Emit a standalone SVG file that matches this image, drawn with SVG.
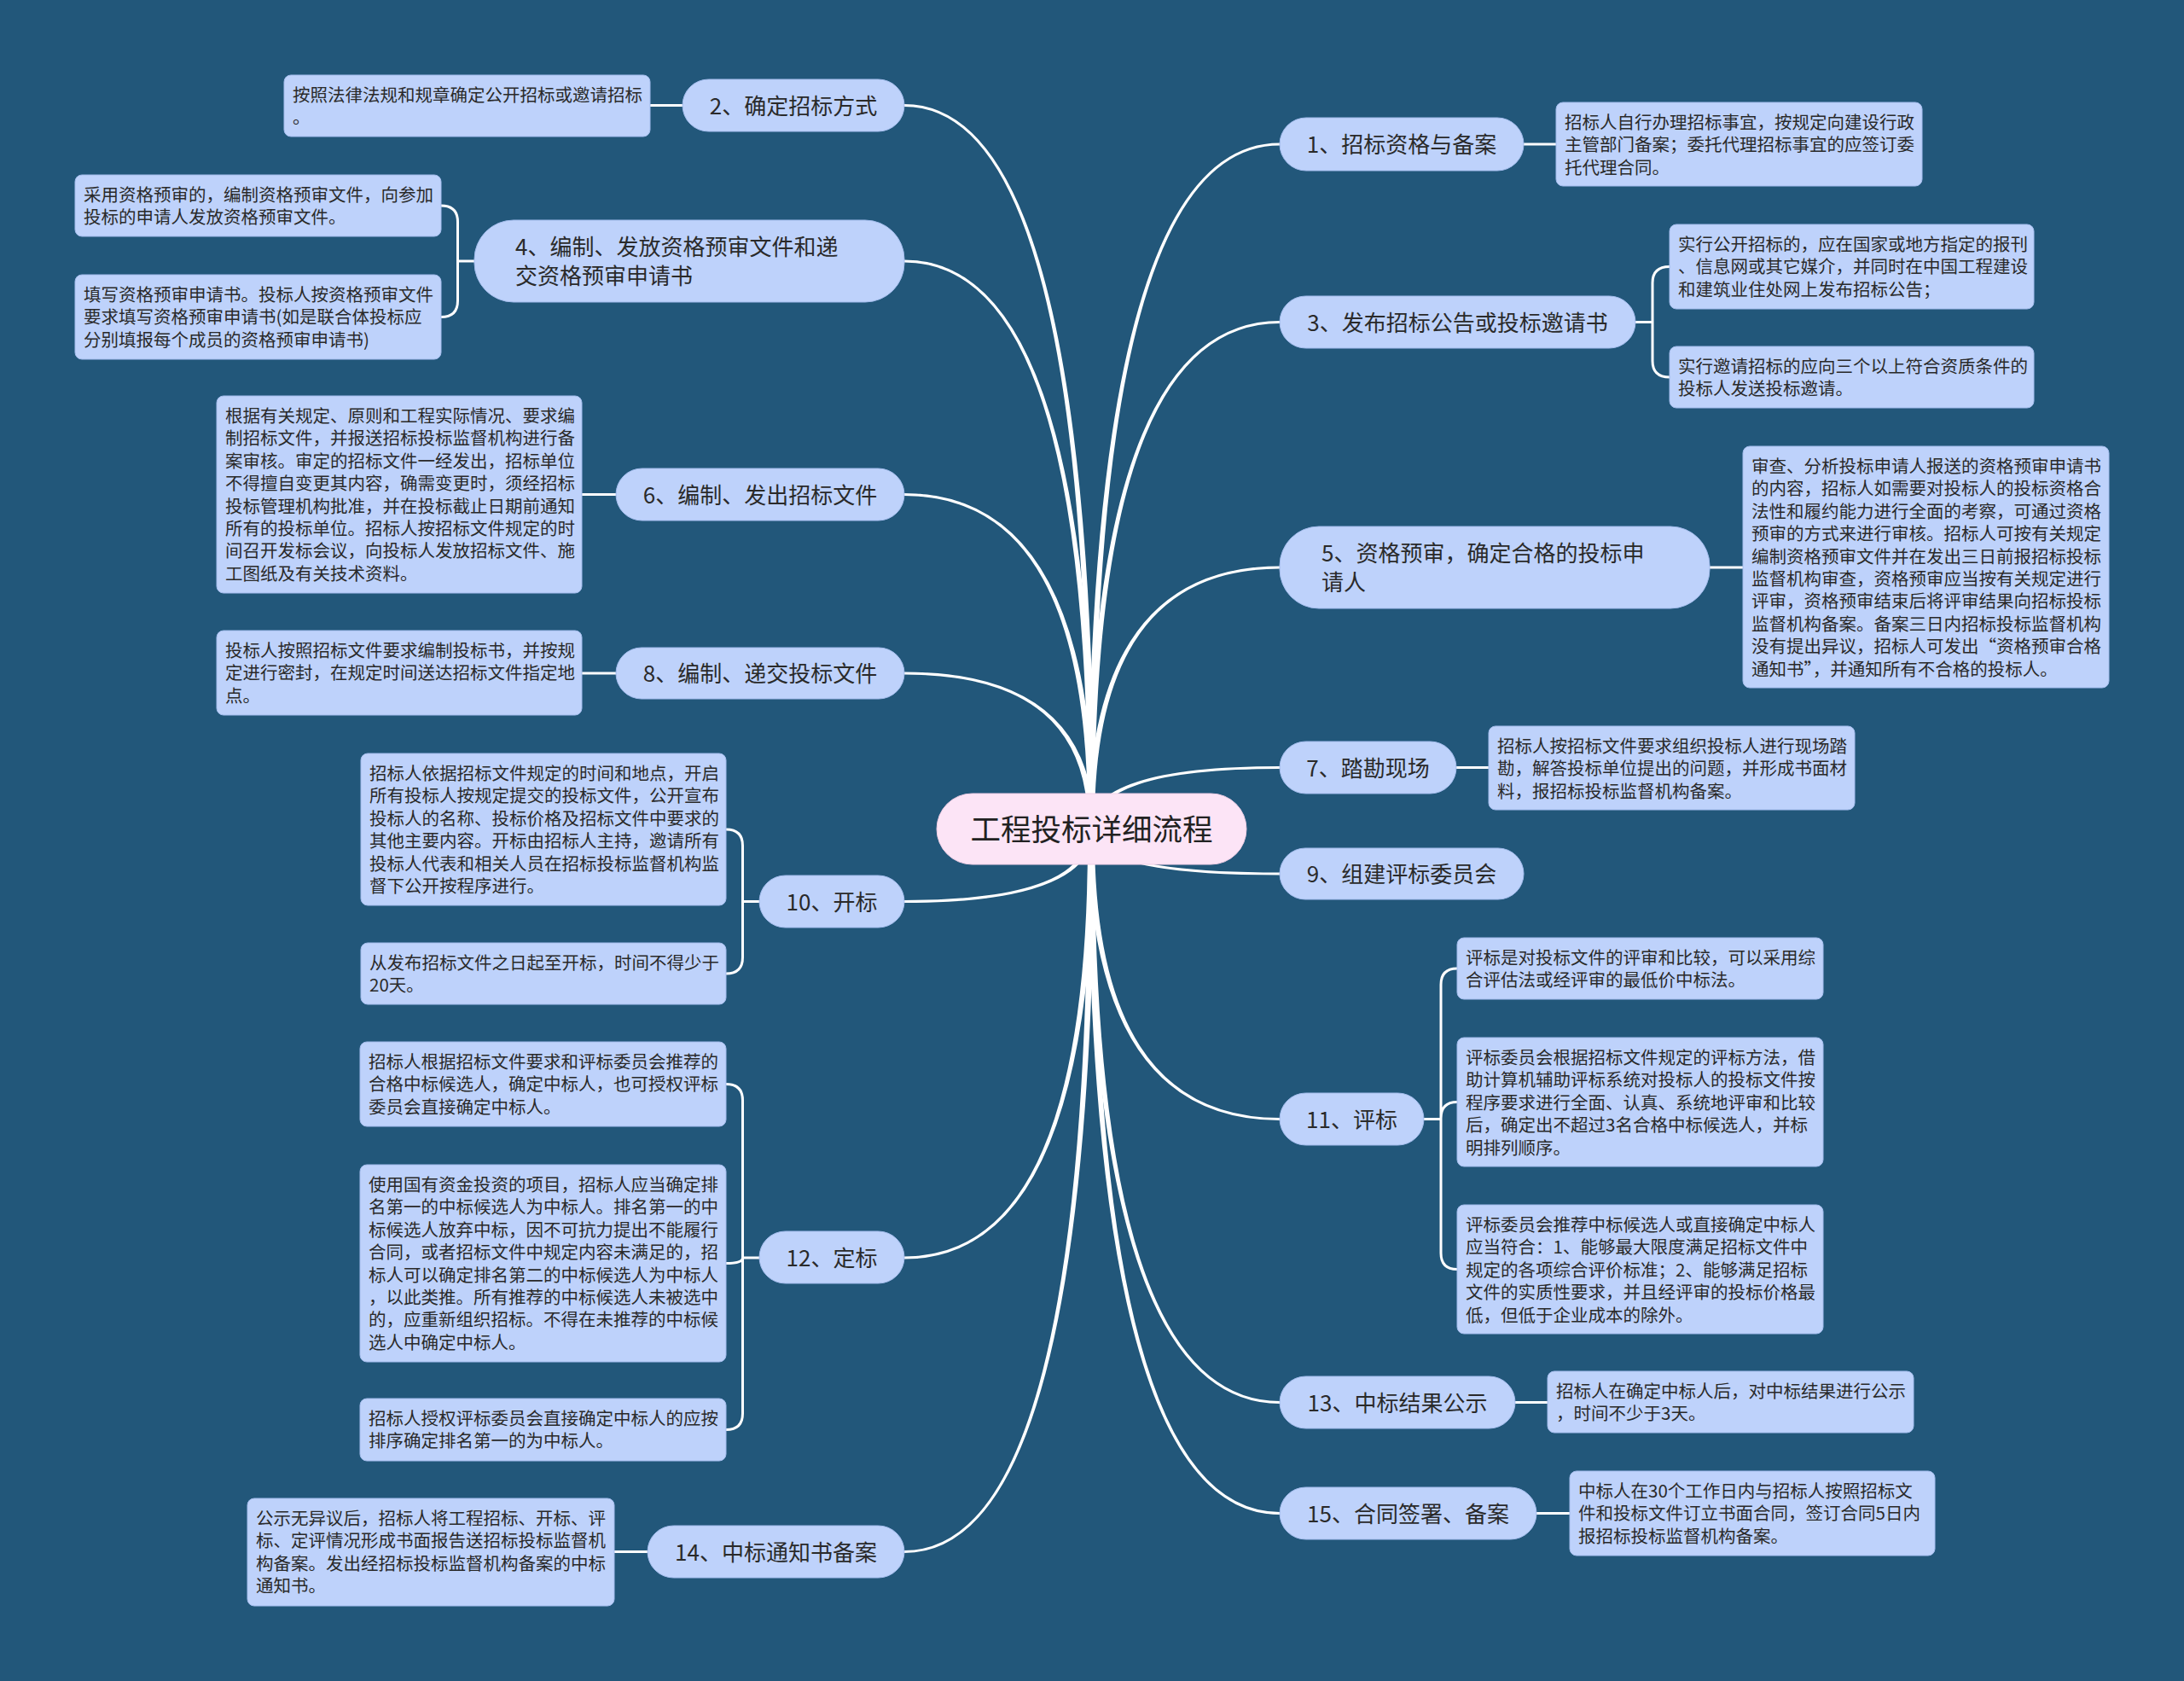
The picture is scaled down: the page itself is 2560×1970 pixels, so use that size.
<svg xmlns="http://www.w3.org/2000/svg" width="2560" height="1970" viewBox="0 0 2560 1970">
<style>
.bg{fill:#22577a}
.node{fill:#bed2fb;stroke:#a3bcec;stroke-width:1}
.child{fill:#bed2fb;stroke:#a3bcec;stroke-width:1}
.root{fill:#fce4f6;stroke:#f0cfe6;stroke-width:1}
.nt{font-family:"Noto Sans CJK SC","Noto Sans",sans-serif;font-size:26px;fill:#2a2a2a}
.ct{font-family:"Noto Sans CJK SC","Noto Sans",sans-serif;font-size:20.5px;fill:#2a2a2a}
.rt{font-family:"Noto Sans CJK SC","Noto Sans",sans-serif;font-size:35.5px;fill:#222}
.mid{text-anchor:middle}
.trunk{fill:#ffffff;stroke:#ffffff;stroke-width:3;stroke-linejoin:round}
.link{fill:none;stroke:#ffffff;stroke-width:3;stroke-linecap:round}
</style>
<rect class="bg" x="0" y="0" width="2560" height="1970"/>
<g id="connectors">
<path class="trunk" d="M1276.5 971.5 Q1279 169 1500 169 Q1279 169 1281.5 971.5Z"/>
<path class="trunk" d="M1276.5 971.5 Q1279 377.5 1500 377.5 Q1279 377.5 1281.5 971.5Z"/>
<path class="trunk" d="M1276.5 971.5 Q1279 665 1500 665 Q1279 665 1281.5 971.5Z"/>
<path class="trunk" d="M1276.5 971.5 Q1279 899.5 1500 899.5 Q1279 899.5 1281.5 971.5Z"/>
<path class="trunk" d="M1276.5 971.5 Q1279 1024 1500 1024 Q1279 1024 1281.5 971.5Z"/>
<path class="trunk" d="M1276.5 971.5 Q1279 1311.5 1500 1311.5 Q1279 1311.5 1281.5 971.5Z"/>
<path class="trunk" d="M1276.5 971.5 Q1279 1643.5 1500 1643.5 Q1279 1643.5 1281.5 971.5Z"/>
<path class="trunk" d="M1276.5 971.5 Q1279 1773.5 1500 1773.5 Q1279 1773.5 1281.5 971.5Z"/>
<path class="trunk" d="M1276.5 971.5 Q1279 123.5 1060 123.5 Q1279 123.5 1281.5 971.5Z"/>
<path class="trunk" d="M1276.5 971.5 Q1279 306 1060 306 Q1279 306 1281.5 971.5Z"/>
<path class="trunk" d="M1276.5 971.5 Q1279 579.5 1060 579.5 Q1279 579.5 1281.5 971.5Z"/>
<path class="trunk" d="M1276.5 971.5 Q1279 789 1060 789 Q1279 789 1281.5 971.5Z"/>
<path class="trunk" d="M1276.5 971.5 Q1279 1056.5 1060 1056.5 Q1279 1056.5 1281.5 971.5Z"/>
<path class="trunk" d="M1276.5 971.5 Q1279 1474 1060 1474 Q1279 1474 1281.5 971.5Z"/>
<path class="trunk" d="M1276.5 971.5 Q1279 1818.5 1060 1818.5 Q1279 1818.5 1281.5 971.5Z"/>
<path class="link" d="M1786 169 H1824"/>
<path class="link" d="M2004 665 H2043"/>
<path class="link" d="M1707 899.5 H1745"/>
<path class="link" d="M1776 1643.5 H1814"/>
<path class="link" d="M1801 1773.5 H1840"/>
<path class="link" d="M800 123.5 H762"/>
<path class="link" d="M722 579.5 H682"/>
<path class="link" d="M722 789 H682"/>
<path class="link" d="M759 1818.5 H720"/>
<path class="link" d="M1917 377.5 H1937 M1937 377.5 V331.5 Q1937 312.5 1957 312.5 M1937 377.5 V423 Q1937 442 1957 442"/>
<path class="link" d="M1669 1311.5 H1689 M1689 1311.5 V1154 Q1689 1135 1708 1135 M1689 1311.5 V1310.5 Q1689 1291.5 1708 1291.5 M1689 1311.5 V1468.5 Q1689 1487.5 1708 1487.5"/>
<path class="link" d="M556 306 H536.5 M536.5 306 V260 Q536.5 241 517 241 M536.5 306 V352.5 Q536.5 371.5 517 371.5"/>
<path class="link" d="M890 1056.5 H870.5 M870.5 1056.5 V991 Q870.5 972 851 972 M870.5 1056.5 V1122 Q870.5 1141 851 1141"/>
<path class="link" d="M890 1474 H870.5 M870.5 1474 V1289.5 Q870.5 1270.5 851 1270.5 M870.5 1474 Q870.5 1480.5 851 1480.5 M870.5 1474 V1656.5 Q870.5 1675.5 851 1675.5"/>
</g>
<g id="root">
<rect class="root" x="1098" y="930" width="363" height="83" rx="41.5"/>
<text class="rt mid" x="1279.5" y="985">工程投标详细流程</text>
</g>
<g id="n1">
<rect class="node" x="1500" y="138" width="286" height="62" rx="31"/>
<text class="nt mid" x="1643" y="179">1、招标资格与备案</text>
</g>
<g id="n1c">
<rect class="child" x="1824" y="120" width="429" height="98" rx="8"/>
<text class="ct" x="1834" y="151"><tspan x="1834">招标人自行办理招标事宜，按规定向建设行政</tspan><tspan x="1834" dy="26.4">主管部门备案；委托代理招标事宜的应签订委</tspan><tspan x="1834" dy="26.4">托代理合同。</tspan></text>
</g>
<g id="n3">
<rect class="node" x="1500" y="347" width="417" height="61" rx="30.5"/>
<text class="nt mid" x="1708.5" y="387.5">3、发布招标公告或投标邀请书</text>
</g>
<g id="n3c1">
<rect class="child" x="1957" y="263" width="427" height="99" rx="8"/>
<text class="ct" x="1967" y="294"><tspan x="1967">实行公开招标的，应在国家或地方指定的报刊</tspan><tspan x="1967" dy="26.4">、信息网或其它媒介，并同时在中国工程建设</tspan><tspan x="1967" dy="26.4">和建筑业住处网上发布招标公告；</tspan></text>
</g>
<g id="n3c2">
<rect class="child" x="1957" y="406" width="427" height="72" rx="8"/>
<text class="ct" x="1967" y="437"><tspan x="1967">实行邀请招标的应向三个以上符合资质条件的</tspan><tspan x="1967" dy="26.4">投标人发送投标邀请。</tspan></text>
</g>
<g id="n5">
<rect class="node" x="1500" y="617" width="504" height="96" rx="46"/>
<text class="nt" x="1549" y="658"><tspan x="1549">5、资格预审，确定合格的投标申</tspan><tspan x="1549" dy="34">请人</tspan></text>
</g>
<g id="n5c">
<rect class="child" x="2043" y="523" width="429" height="283" rx="8"/>
<text class="ct" x="2053" y="554"><tspan x="2053">审查、分析投标申请人报送的资格预审申请书</tspan><tspan x="2053" dy="26.4">的内容，招标人如需要对投标人的投标资格合</tspan><tspan x="2053" dy="26.4">法性和履约能力进行全面的考察，可通过资格</tspan><tspan x="2053" dy="26.4">预审的方式来进行审核。招标人可按有关规定</tspan><tspan x="2053" dy="26.4">编制资格预审文件并在发出三日前报招标投标</tspan><tspan x="2053" dy="26.4">监督机构审查，资格预审应当按有关规定进行</tspan><tspan x="2053" dy="26.4">评审，资格预审结束后将评审结果向招标投标</tspan><tspan x="2053" dy="26.4">监督机构备案。备案三日内招标投标监督机构</tspan><tspan x="2053" dy="26.4">没有提出异议，招标人可发出“资格预审合格</tspan><tspan x="2053" dy="26.4">通知书”，并通知所有不合格的投标人。</tspan></text>
</g>
<g id="n7">
<rect class="node" x="1500" y="869" width="207" height="61" rx="30.5"/>
<text class="nt mid" x="1603.5" y="909.5">7、踏勘现场</text>
</g>
<g id="n7c">
<rect class="child" x="1745" y="851" width="429" height="98" rx="8"/>
<text class="ct" x="1755" y="882"><tspan x="1755">招标人按招标文件要求组织投标人进行现场踏</tspan><tspan x="1755" dy="26.4">勘，解答投标单位提出的问题，并形成书面材</tspan><tspan x="1755" dy="26.4">料，报招标投标监督机构备案。</tspan></text>
</g>
<g id="n9">
<rect class="node" x="1500" y="994" width="286" height="60" rx="30"/>
<text class="nt mid" x="1643" y="1034">9、组建评标委员会</text>
</g>
<g id="n11">
<rect class="node" x="1500" y="1281" width="169" height="61" rx="30.5"/>
<text class="nt mid" x="1584.5" y="1321.5">11、评标</text>
</g>
<g id="n11c1">
<rect class="child" x="1708" y="1099" width="429" height="72" rx="8"/>
<text class="ct" x="1718" y="1130"><tspan x="1718">评标是对投标文件的评审和比较，可以采用综</tspan><tspan x="1718" dy="26.4">合评估法或经评审的最低价中标法。</tspan></text>
</g>
<g id="n11c2">
<rect class="child" x="1708" y="1216" width="429" height="151" rx="8"/>
<text class="ct" x="1718" y="1247"><tspan x="1718">评标委员会根据招标文件规定的评标方法，借</tspan><tspan x="1718" dy="26.4">助计算机辅助评标系统对投标人的投标文件按</tspan><tspan x="1718" dy="26.4">程序要求进行全面、认真、系统地评审和比较</tspan><tspan x="1718" dy="26.4">后，确定出不超过3名合格中标候选人，并标</tspan><tspan x="1718" dy="26.4">明排列顺序。</tspan></text>
</g>
<g id="n11c3">
<rect class="child" x="1708" y="1412" width="429" height="151" rx="8"/>
<text class="ct" x="1718" y="1443"><tspan x="1718">评标委员会推荐中标候选人或直接确定中标人</tspan><tspan x="1718" dy="26.4">应当符合：1、能够最大限度满足招标文件中</tspan><tspan x="1718" dy="26.4">规定的各项综合评价标准；2、能够满足招标</tspan><tspan x="1718" dy="26.4">文件的实质性要求，并且经评审的投标价格最</tspan><tspan x="1718" dy="26.4">低，但低于企业成本的除外。</tspan></text>
</g>
<g id="n13">
<rect class="node" x="1500" y="1613" width="276" height="61" rx="30.5"/>
<text class="nt mid" x="1638" y="1653.5">13、中标结果公示</text>
</g>
<g id="n13c">
<rect class="child" x="1814" y="1607" width="429" height="72" rx="8"/>
<text class="ct" x="1824" y="1638"><tspan x="1824">招标人在确定中标人后，对中标结果进行公示</tspan><tspan x="1824" dy="26.4">，时间不少于3天。</tspan></text>
</g>
<g id="n15">
<rect class="node" x="1500" y="1743" width="301" height="61" rx="30.5"/>
<text class="nt mid" x="1650.5" y="1783.5">15、合同签署、备案</text>
</g>
<g id="n15c">
<rect class="child" x="1840" y="1724" width="428" height="99" rx="8"/>
<text class="ct" x="1850" y="1755"><tspan x="1850">中标人在30个工作日内与招标人按照招标文</tspan><tspan x="1850" dy="26.4">件和投标文件订立书面合同，签订合同5日内</tspan><tspan x="1850" dy="26.4">报招标投标监督机构备案。</tspan></text>
</g>
<g id="n2">
<rect class="node" x="800" y="93" width="260" height="61" rx="30.5"/>
<text class="nt mid" x="930" y="133.5">2、确定招标方式</text>
</g>
<g id="n2c">
<rect class="child" x="333" y="88" width="429" height="72" rx="8"/>
<text class="ct" x="343" y="119"><tspan x="343">按照法律法规和规章确定公开招标或邀请招标</tspan><tspan x="343" dy="26.4">。</tspan></text>
</g>
<g id="n4">
<rect class="node" x="556" y="258" width="504" height="96" rx="46"/>
<text class="nt" x="604" y="299"><tspan x="604">4、编制、发放资格预审文件和递</tspan><tspan x="604" dy="34">交资格预审申请书</tspan></text>
</g>
<g id="n4c1">
<rect class="child" x="88" y="205" width="429" height="72" rx="8"/>
<text class="ct" x="98" y="236"><tspan x="98">采用资格预审的，编制资格预审文件，向参加</tspan><tspan x="98" dy="26.4">投标的申请人发放资格预审文件。</tspan></text>
</g>
<g id="n4c2">
<rect class="child" x="88" y="322" width="429" height="99" rx="8"/>
<text class="ct" x="98" y="353"><tspan x="98">填写资格预审申请书。投标人按资格预审文件</tspan><tspan x="98" dy="26.4">要求填写资格预审申请书(如是联合体投标应</tspan><tspan x="98" dy="26.4">分别填报每个成员的资格预审申请书)</tspan></text>
</g>
<g id="n6">
<rect class="node" x="722" y="549" width="338" height="61" rx="30.5"/>
<text class="nt mid" x="891" y="589.5">6、编制、发出招标文件</text>
</g>
<g id="n6c">
<rect class="child" x="254" y="464" width="428" height="231" rx="8"/>
<text class="ct" x="264" y="495"><tspan x="264">根据有关规定、原则和工程实际情况、要求编</tspan><tspan x="264" dy="26.4">制招标文件，并报送招标投标监督机构进行备</tspan><tspan x="264" dy="26.4">案审核。审定的招标文件一经发出，招标单位</tspan><tspan x="264" dy="26.4">不得擅自变更其内容，确需变更时，须经招标</tspan><tspan x="264" dy="26.4">投标管理机构批准，并在投标截止日期前通知</tspan><tspan x="264" dy="26.4">所有的投标单位。招标人按招标文件规定的时</tspan><tspan x="264" dy="26.4">间召开发标会议，向投标人发放招标文件、施</tspan><tspan x="264" dy="26.4">工图纸及有关技术资料。</tspan></text>
</g>
<g id="n8">
<rect class="node" x="722" y="759" width="338" height="60" rx="30"/>
<text class="nt mid" x="891" y="799">8、编制、递交投标文件</text>
</g>
<g id="n8c">
<rect class="child" x="254" y="739" width="428" height="99" rx="8"/>
<text class="ct" x="264" y="770"><tspan x="264">投标人按照招标文件要求编制投标书，并按规</tspan><tspan x="264" dy="26.4">定进行密封，在规定时间送达招标文件指定地</tspan><tspan x="264" dy="26.4">点。</tspan></text>
</g>
<g id="n10">
<rect class="node" x="890" y="1026" width="170" height="61" rx="30.5"/>
<text class="nt mid" x="975" y="1066.5">10、开标</text>
</g>
<g id="n10c1">
<rect class="child" x="423" y="883" width="428" height="178" rx="8"/>
<text class="ct" x="433" y="914"><tspan x="433">招标人依据招标文件规定的时间和地点，开启</tspan><tspan x="433" dy="26.4">所有投标人按规定提交的投标文件，公开宣布</tspan><tspan x="433" dy="26.4">投标人的名称、投标价格及招标文件中要求的</tspan><tspan x="433" dy="26.4">其他主要内容。开标由招标人主持，邀请所有</tspan><tspan x="433" dy="26.4">投标人代表和相关人员在招标投标监督机构监</tspan><tspan x="433" dy="26.4">督下公开按程序进行。</tspan></text>
</g>
<g id="n10c2">
<rect class="child" x="423" y="1105" width="428" height="72" rx="8"/>
<text class="ct" x="433" y="1136"><tspan x="433">从发布招标文件之日起至开标，时间不得少于</tspan><tspan x="433" dy="26.4">20天。</tspan></text>
</g>
<g id="n12">
<rect class="node" x="890" y="1443" width="170" height="61" rx="30.5"/>
<text class="nt mid" x="975" y="1484">12、定标</text>
</g>
<g id="n12c1">
<rect class="child" x="422" y="1221" width="429" height="99" rx="8"/>
<text class="ct" x="432" y="1252"><tspan x="432">招标人根据招标文件要求和评标委员会推荐的</tspan><tspan x="432" dy="26.4">合格中标候选人，确定中标人，也可授权评标</tspan><tspan x="432" dy="26.4">委员会直接确定中标人。</tspan></text>
</g>
<g id="n12c2">
<rect class="child" x="422" y="1365" width="429" height="231" rx="8"/>
<text class="ct" x="432" y="1396"><tspan x="432">使用国有资金投资的项目，招标人应当确定排</tspan><tspan x="432" dy="26.4">名第一的中标候选人为中标人。排名第一的中</tspan><tspan x="432" dy="26.4">标候选人放弃中标，因不可抗力提出不能履行</tspan><tspan x="432" dy="26.4">合同，或者招标文件中规定内容未满足的，招</tspan><tspan x="432" dy="26.4">标人可以确定排名第二的中标候选人为中标人</tspan><tspan x="432" dy="26.4">，以此类推。所有推荐的中标候选人未被选中</tspan><tspan x="432" dy="26.4">的，应重新组织招标。不得在未推荐的中标候</tspan><tspan x="432" dy="26.4">选人中确定中标人。</tspan></text>
</g>
<g id="n12c3">
<rect class="child" x="422" y="1639" width="429" height="73" rx="8"/>
<text class="ct" x="432" y="1670"><tspan x="432">招标人授权评标委员会直接确定中标人的应按</tspan><tspan x="432" dy="26.4">排序确定排名第一的为中标人。</tspan></text>
</g>
<g id="n14">
<rect class="node" x="759" y="1788" width="301" height="61" rx="30.5"/>
<text class="nt mid" x="909.5" y="1828.5">14、中标通知书备案</text>
</g>
<g id="n14c">
<rect class="child" x="290" y="1756" width="430" height="126" rx="8"/>
<text class="ct" x="300" y="1787"><tspan x="300">公示无异议后，招标人将工程招标、开标、评</tspan><tspan x="300" dy="26.4">标、定评情况形成书面报告送招标投标监督机</tspan><tspan x="300" dy="26.4">构备案。发出经招标投标监督机构备案的中标</tspan><tspan x="300" dy="26.4">通知书。</tspan></text>
</g>
</svg>
